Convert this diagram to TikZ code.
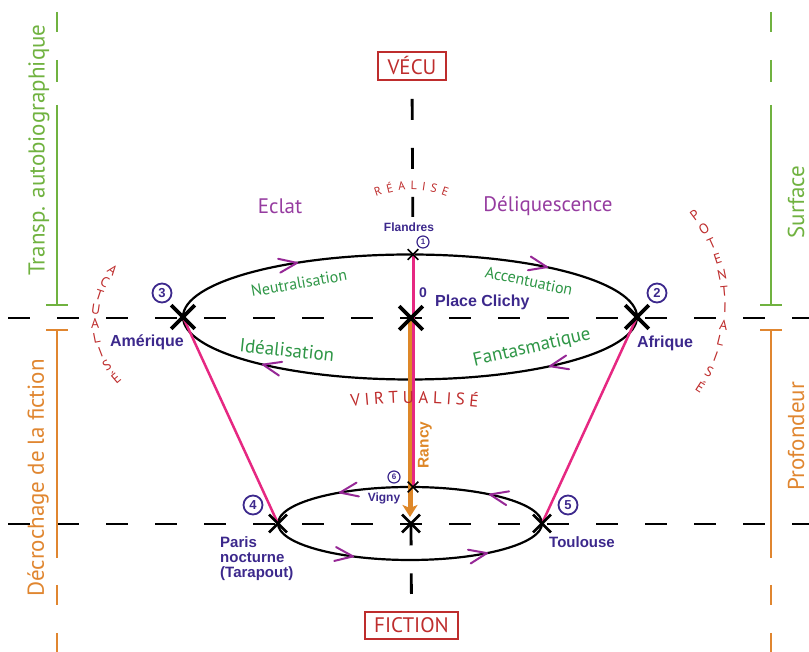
\documentclass[tikz,border=0pt]{standalone}
\usepackage{fontspec}
\setmainfont{PT Sans}
\newfontfamily\labfont{Liberation Sans}
\usetikzlibrary{arrows.meta,shapes.misc,decorations.text}

\definecolor{axisgreen}{RGB}{112,178,64}
\definecolor{axisorange}{RGB}{224,134,48}
\definecolor{arcgreen}{RGB}{46,150,70}
\definecolor{zonepurple}{RGB}{150,60,160}
\definecolor{placeblue}{RGB}{60,40,140}
\definecolor{modered}{RGB}{190,45,45}
\definecolor{routepink}{RGB}{230,40,130}
\definecolor{chevpurple}{RGB}{150,40,150}
\definecolor{rancyorange}{RGB}{222,135,40}

\newcommand{\setfs}[1]{\fontsize{#1}{#1}\selectfont}

\begin{document}
\begin{tikzpicture}[x=1pt,y=1pt,
  axis/.style={line width=2.8pt, black, dash pattern=on 22pt off 27pt},
  loop/.style={line width=2.2pt, black},
  bigx/.style={cross out, draw=black, line width=3.6pt, minimum size=20pt, inner sep=0pt},
  midx/.style={cross out, draw=black, line width=2.8pt, minimum size=15pt, inner sep=0pt},
  smallx/.style={cross out, draw=black, line width=1.6pt, minimum size=9pt, inner sep=0pt},
  numcirc/.style={circle, draw=placeblue, text=placeblue, line width=1.8pt, minimum size=19pt, inner sep=0pt, font=\labfont\bfseries\setfs{13}},
  smallnum/.style={numcirc, line width=1.2pt, minimum size=12pt, font=\labfont\bfseries\setfs{8}},
  place/.style={text=placeblue, font=\labfont\bfseries\setfs{16}, inner sep=0pt},
  arclabel/.style={text=arcgreen, font=\setfs{16}, inner sep=0pt},
  zone/.style={text=zonepurple, font=\setfs{21}, inner sep=0pt},
  modebox/.style={draw=modered, text=modered, line width=2pt, font=\setfs{21}, inner sep=0pt},
  sidetext/.style={rotate=90, font=\setfs{23}, inner sep=0pt},
  sideline/.style={line width=2.5pt},
  route/.style={routepink, line width=2.5pt},
  rancy/.style={rancyorange, line width=5pt, -{Stealth[length=12pt,width=15pt,inset=3pt]}},
  chevron/.style={chevpurple, line width=2pt, line cap=round, line join=round},
  chev/.pic={\draw[chevron] (-18pt,7pt) -- (0pt,0pt) -- (-18pt,-7pt);},
  arctext/.style={decorate, decoration={text along path, text color=modered, text align={fit to path}}},
  arcletter/.style={text=modered, font=\setfs{14}, inner sep=0pt}
]
\useasboundingbox (0,0) rectangle (809,652);

% key points of the two loops
\coordinate (am) at (183,335);
\coordinate (af) at (637,335);
\coordinate (pc) at (411,334);
\coordinate (fl) at (413,397.5);
\coordinate (pa) at (278,128.5);
\coordinate (tl) at (542,128.5);
\coordinate (lc) at (411,128.5);
\coordinate (vi) at (413,165);

% the two modes
\node[modebox, minimum width=68pt, minimum height=28pt] (vecu) at (412,586) {VÉCU};
\node[modebox, minimum width=93pt, minimum height=27pt] (fiction) at (411.5,26.5) {FICTION};

% horizontal levels
\draw[axis] (8,334) -- (809,334);
\draw[axis] (8,128) -- (809,128);
% vertical axis
\draw[axis, dash pattern=on 21pt off 28pt, shorten <=18pt, shorten >=37.5pt] (vecu.south) -- (fl);
\draw[axis, dash pattern=on 22pt off 28pt, shorten >=17pt] (lc) -- (fiction.north);

% side scales
\draw[sideline, axisgreen] (57,640) -- (57,620) (57,592) -- (57,570);
\draw[sideline, axisgreen] (57,547) -- (57,347) (46,347) -- (68,347);
\draw[sideline, axisorange] (46,322) -- (68,322) (57,322) -- (57,94) (57,67) -- (57,47) (57,19) -- (57,0);
\draw[sideline, axisgreen] (771,640) -- (771,620) (771,592) -- (771,570);
\draw[sideline, axisgreen] (771,547) -- (771,347) (760,347) -- (782,347);
\draw[sideline, axisorange] (760,322) -- (782,322) (771,322) -- (771,94) (771,67) -- (771,47) (771,19) -- (771,0);

\node[sidetext, text=axisgreen] (transp) at (39,502) {Transp. autobiographique};
\node[sidetext, text=axisorange] (decro) at (38,174) {Décrochage de la fiction};
\node[sidetext, text=axisgreen] (surface) at (796,450) {Surface};
\node[sidetext, text=axisorange] (profond) at (796,216) {Profondeur};

% loops
\draw[loop] (410,335) ellipse [x radius=227pt, y radius=62.5pt];
\draw[loop] (410,128.5) ellipse [x radius=132pt, y radius=36.5pt];

% routes between places
\draw[route] (am) -- (pa);
\draw[route] (af) -- (tl);
\draw[rancy, shorten >=6.5pt] ([xshift=-1pt]pc) -- ([xshift=-1pt]lc);
\draw[route] ([xshift=0.5pt]fl) -- ([xshift=0.5pt]vi);

% crossings
\node[bigx] (amx) at (am) {};
\node[bigx] (afx) at (af) {};
\node[bigx] (pcx) at (pc) {};
\node[midx] (pax) at (pa) {};
\node[midx] (tlx) at (tl) {};
\node[midx] (lcx) at (lc) {};
\node[smallx] (flx) at (fl) {};
\node[smallx] (vix) at (vi) {};

% direction marks on the loops
\pic[rotate=9] at (297,389.1) {chev};
\pic[rotate=-11.8] at (547,384.9) {chev};
\pic[rotate=166.8] at (263,287.4) {chev};
\pic[rotate=192.2] at (550,285.8) {chev};
\pic[rotate=189.8] at (340,159.4) {chev};
\pic[rotate=168.1] at (490,157.5) {chev};
\pic[rotate=-7.6] at (353,95.6) {chev};
\pic[rotate=11.2] at (487,98.9) {chev};

% numbered stations
\node[numcirc] (n3) at (162,359) {3};
\node[numcirc] (n2) at (657,359) {2};
\node[numcirc] (n4) at (253,147) {4};
\node[numcirc] (n5) at (568,147) {5};
\node[smallnum] (n1) at (423,410) {1};
\node[smallnum] (n6) at (394,175) {6};

% places
\node[place, font=\labfont\bfseries\setfs{12}] (flandres) at (409,425) {Flandres};
\node[place, font=\labfont\bfseries\setfs{14}] (zero) at (423,359) {0};
\node[place, anchor=west] (clichy) at (435,350) {Place Clichy};
\node[place] (amerique) at (147,310) {Amérique};
\node[place] (afrique) at (665,309) {Afrique};
\node[place, font=\labfont\bfseries\setfs{12}] (vigny) at (384,154) {Vigny};
\node[place, font=\labfont\bfseries\setfs{15}, anchor=north west, align=left] (paris) at (220,116) {Paris\\nocturne\\(Tarapout)};
\node[place, font=\labfont\bfseries\setfs{15}, anchor=west] (toulouse) at (549,110) {Toulouse};
\node[place, text=rancyorange, rotate=90, font=\labfont\bfseries\setfs{15.5}] (rancy) at (425,207) {Rancy};

% movements along the loops
\node[arclabel, rotate=10] (neutral) at (299,369) {Neutralisation};
\node[arclabel, rotate=-12] (accent) at (529,371) {Accentuation};
\node[arclabel, font=\setfs{19}, rotate=-6] (ideal) at (287,302) {Idéalisation};
\node[arclabel, font=\setfs{19}, rotate=13] (fantasm) at (532,304) {Fantasmatique};

\node[zone] (eclat) at (280,446) {Eclat};
\node[zone] (deliq) at (548,446) {Déliquescence};

% curved mode words
\path[arctext, decoration={text={|\setfs{12}|RÉALISE}}] (376,455) to[bend left=20] (447,455);
\path[arctext, decoration={text={|\setfs{17}|VIRTUALISÉ}}] (351,245) to[bend left=6] (478,245);
\foreach \ch [count=\i from 0] in {A,C,T,U,A,L,I,S,É} {
  \pgfmathsetmacro{\ang}{142.3+9.75*\i}
  \pgfmathsetmacro{\tilt}{\ang-180}
  \node[arcletter, rotate=\tilt] (act\i) at ([shift={(\ang:85)}]180,330) {\ch};
}
\foreach \ch [count=\i from 0] in {P,O,T,E,N,T,I,A,L,I,S,É} {
  \pgfmathsetmacro{\ang}{37-6.36*\i}
  \node[arcletter, rotate=\ang] (pot\i) at ([shift={(\ang:150)}]575,347) {\ch};
}
\end{tikzpicture}
\end{document}
